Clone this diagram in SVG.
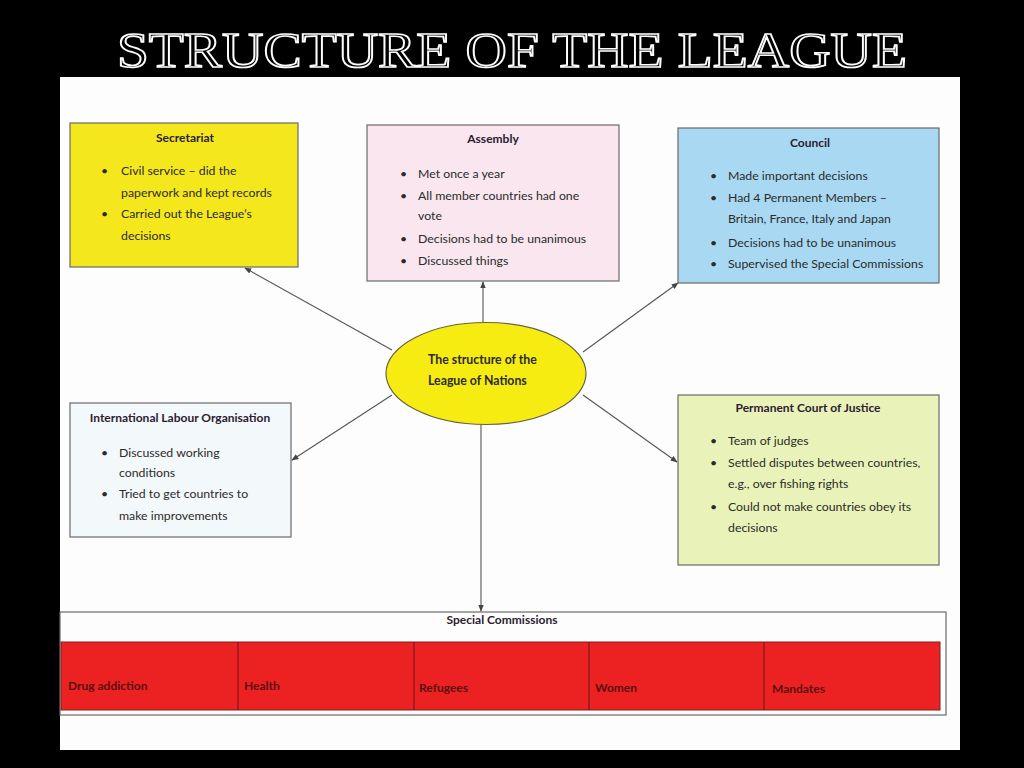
<svg xmlns="http://www.w3.org/2000/svg" width="1024" height="768" viewBox="0 0 1024 768">
<defs>
<style>
.t{font-family:Lato,"Liberation Sans",sans-serif;font-size:12.3px;fill:#2b2b2b}
.h{font-family:Lato,"Liberation Sans",sans-serif;font-size:12px;font-weight:bold;fill:#2b2030;text-anchor:middle}
.box{stroke:#6a6a6a;stroke-width:1.2}
.con{stroke:#555;stroke-width:1.1;fill:none;marker-end:url(#ah)}
.red{font-family:Lato,"Liberation Sans",sans-serif;font-size:12px;font-weight:bold;fill:#5a1010}
</style>
<marker id="ah" viewBox="0 0 10 10" refX="9" refY="5" markerWidth="7" markerHeight="7" orient="auto" markerUnits="userSpaceOnUse">
<path d="M0,1 L10,5 L0,9 z" fill="#444"/>
</marker>
</defs>
<rect x="0" y="0" width="1024" height="768" fill="#000"/>
<text x="512" y="67" text-anchor="middle" font-family="'Liberation Serif',serif" font-size="50" textLength="790" lengthAdjust="spacingAndGlyphs" fill="#000" stroke="#fff" stroke-width="1.7">STRUCTURE OF THE LEAGUE</text>
<rect x="60" y="77" width="900" height="673" fill="#fdfdfd"/>

<g id="connectors">
<line class="con" x1="392" y1="350" x2="245" y2="268"/>
<line class="con" x1="483" y1="322" x2="483" y2="282"/>
<line class="con" x1="583" y1="352" x2="678" y2="283"/>
<line class="con" x1="392" y1="395" x2="292" y2="460"/>
<line class="con" x1="583" y1="395" x2="677" y2="462"/>
<line class="con" x1="481" y1="425" x2="481" y2="611"/>
</g>

<g id="secretariat">
<rect class="box" x="70" y="123" width="228" height="144" fill="#f4e81c"/>
<text class="h" x="185" y="142">Secretariat</text>
<text class="t" x="101" y="175">•</text><text class="t" x="121" y="175">Civil service – did the</text>
<text class="t" x="121" y="197">paperwork and kept records</text>
<text class="t" x="101" y="218">•</text><text class="t" x="121" y="218">Carried out the League’s</text>
<text class="t" x="121" y="240">decisions</text>
</g>

<g id="assembly">
<rect class="box" x="367" y="125" width="252" height="156" fill="#f9e6ee"/>
<text class="h" x="493" y="143">Assembly</text>
<text class="t" x="400" y="178">•</text><text class="t" x="418" y="178">Met once a year</text>
<text class="t" x="400" y="200">•</text><text class="t" x="418" y="200">All member countries had one</text>
<text class="t" x="418" y="220">vote</text>
<text class="t" x="400" y="243">•</text><text class="t" x="418" y="243">Decisions had to be unanimous</text>
<text class="t" x="400" y="265">•</text><text class="t" x="418" y="265">Discussed things</text>
</g>

<g id="council">
<rect class="box" x="678" y="128" width="261" height="155" fill="#a9d9f2"/>
<text class="h" x="810" y="147">Council</text>
<text class="t" x="710" y="180">•</text><text class="t" x="728" y="180">Made important decisions</text>
<text class="t" x="710" y="202">•</text><text class="t" x="728" y="202">Had 4 Permanent Members –</text>
<text class="t" x="728" y="223">Britain, France, Italy and Japan</text>
<text class="t" x="710" y="247">•</text><text class="t" x="728" y="247">Decisions had to be unanimous</text>
<text class="t" x="710" y="268">•</text><text class="t" x="728" y="268">Supervised the Special Commissions</text>
</g>

<g id="centre">
<ellipse cx="486" cy="373.5" rx="100" ry="51" fill="#f6ec12" stroke="#6a6440" stroke-width="1.2"/>
<text class="t" x="428" y="364" font-weight="bold">The structure of the</text>
<text class="t" x="428" y="385" font-weight="bold">League of Nations</text>
</g>

<g id="ilo">
<rect class="box" x="70" y="403" width="221" height="134" fill="#f3f8fa"/>
<text class="h" x="180" y="422">International Labour Organisation</text>
<text class="t" x="101" y="457">•</text><text class="t" x="119" y="457">Discussed working</text>
<text class="t" x="119" y="477">conditions</text>
<text class="t" x="101" y="498">•</text><text class="t" x="119" y="498">Tried to get countries to</text>
<text class="t" x="119" y="520">make improvements</text>
</g>

<g id="court">
<rect class="box" x="678" y="395" width="261" height="170" fill="#e9f3b9"/>
<text class="h" x="808" y="412">Permanent Court of Justice</text>
<text class="t" x="710" y="445">•</text><text class="t" x="728" y="445">Team of judges</text>
<text class="t" x="710" y="467">•</text><text class="t" x="728" y="467">Settled disputes between countries,</text>
<text class="t" x="728" y="488">e.g., over fishing rights</text>
<text class="t" x="710" y="511">•</text><text class="t" x="728" y="511">Could not make countries obey its</text>
<text class="t" x="728" y="532">decisions</text>
</g>

<g id="special-commissions">
<rect class="box" x="60" y="612" width="886" height="103" fill="#fdfdfd"/>
<text class="h" x="502" y="624">Special Commissions</text>
<rect x="61" y="642" width="879" height="68" fill="#ec2222" stroke="#7a2020" stroke-width="1"/>
<g stroke="#6a1515" stroke-width="1">
<line x1="238" y1="642" x2="238" y2="710"/>
<line x1="414" y1="642" x2="414" y2="710"/>
<line x1="589" y1="642" x2="589" y2="710"/>
<line x1="764" y1="642" x2="764" y2="710"/>
</g>
<text class="red" x="68" y="690">Drug addiction</text>
<text class="red" x="244" y="690">Health</text>
<text class="red" x="419" y="692">Refugees</text>
<text class="red" x="595" y="692">Women</text>
<text class="red" x="772" y="693">Mandates</text>
</g>
</svg>
